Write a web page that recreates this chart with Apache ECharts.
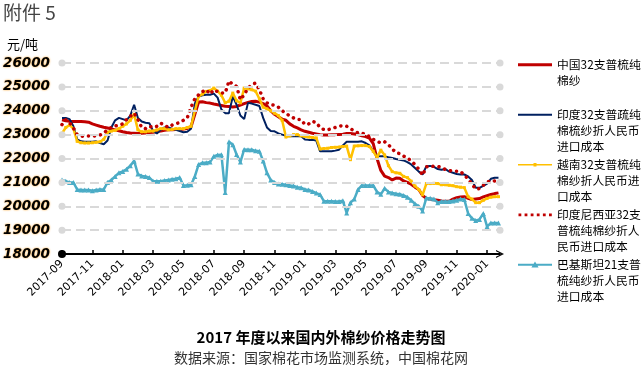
<!DOCTYPE html>
<html><head><meta charset="utf-8">
<script src="https://cdn.jsdelivr.net/npm/echarts@6/dist/echarts.min.js"></script>
<style>html,body{margin:0;padding:0;background:#fff}#c{width:642px;height:365px}</style>
</head><body><div id="c"></div>
<script>
// x positions: months since 2017-09 (weekly-ish samples)
const monthPos = [
 0,0.25,0.5,0.75, 1,1.25,1.5,1.75, 2,2.25,2.5,2.75, 3,3.25,3.5,3.75,
 4,4.25,4.5,4.75, 5,5.25,5.5,5.75, 6,6.25,6.5,6.75, 7,7.25,7.5,7.75,
 8,8.25,8.5,8.75, 9,9.25,9.5,9.75, 10,10.25,10.5,10.75, 11,11.25,11.5,11.75,
 12,12.25,12.5,12.75, 13,13.25,13.5,13.75, 14,14.25,14.5,14.75, 15,15.25,15.5,15.75,
 16,16.25,16.5,16.75, 17,17.25,17.5,17.75, 18,18.25,18.5,18.75, 19,19.25,19.5,19.75,
 20,20.25,20.5,20.75, 21,21.25,21.5,21.75, 22,22.25,22.5,22.75, 23,23.25,23.5,23.75,
 24,24.25,24.5,24.75, 25,25.25,25.5,25.75, 26,26.25,26.5,26.75, 27,27.25,27.5,27.75,
 28,28.25,28.5,28.75
];
const tickPos = [0,2,4,6,8,10,12,14,16,18,20,22,24,26,28];
const monthTicks = ['2017-09','2017-11','2018-01','2018-03','2018-05','2018-07','2018-09','2018-11',
  '2019-01','2019-03','2019-05','2019-07','2019-09','2019-11','2020-01'];
const gridVals = [19000,20000,21000,22000,23000,24000,25000,26000];

const seriesNames = [
 '中国32支普梳纯棉纱',
 '印度32支普疏纯棉梳纱折人民币进口成本',
 '越南32支普梳纯棉纱折人民币进口成本',
 '印度尼西亚32支普梳纯棉纱折人民币进口成本',
 '巴基斯坦21支普梳纯纱折人民币进口成本'
];
const legendLines = [
 '中国32支普梳纯\n棉纱\n ',
 '印度32支普疏纯\n棉梳纱折人民币\n进口成本',
 '越南32支普梳纯\n棉纱折人民币进\n口成本',
 '印度尼西亚32支\n普梳纯棉纱折人\n民币进口成本',
 '巴基斯坦21支普\n梳纯纱折人民币\n进口成本'
];

const china32 = [
 23620,23580,23560,23550, 23550,23550,23540,23520, 23450,23400,23350,23310, 23280,23240,23200,23160,
 23120,23090,23070,23060, 23050,23060,23070,23090, 23100,23130,23150,23180, 23200,23200,23210,23220,
 23230,23260,23330,23850, 24370,24380,24340,24320, 24280,24250,24220,24190, 24180,24160,24180,24240,
 24300,24350,24390,24400, 24360,24300,24200,24000, 23850,23750,23650,23600, 23450,23350,23280,23200,
 23140,23100,23060,23030, 23000,22980,22980,23000, 23000,23010,23020,23050, 23050,23030,23000,22950,
 22920,22850,22620,22000, 21500,21260,21200,21100, 21180,21170,21060,21000, 20920,20800,20700,20450,
 20330,20300,20270,20250, 20220,20210,20210,20300, 20360,20390,20400,20330, 20280,20300,20320,20390,
 20440,20490,20530,20560
];
const india32 = [
 23700,23700,23650,23350, 22800,22720,22700,22700, 22700,22720,22650,22600, 22750,23300,23600,23700,
 23650,23600,23800,24250, 23700,23550,23500,23480, 23150,23050,23200,23300, 23300,23250,23200,23150,
 23100,23120,23250,24300, 24600,24650,24670,24670, 24720,24550,24050,23900, 23900,24600,24250,23800,
 23650,24330,24300,24250, 24200,23700,23300,23150, 23140,23050,23000,22950, 22930,22930,22930,22930,
 22800,22780,22780,22750, 22300,22300,22300,22300, 22330,22370,22550,22700, 22700,22700,22700,22720,
 22650,22550,22300,22100, 22090,22090,22050,22020, 21980,21950,21920,21850, 21750,21600,21450,21330,
 21680,21690,21650,21560, 21530,21560,21450,21400, 21350,21330,21330,21250, 21100,20780,20770,20850,
 20950,21150,21190,21190
];
const vietnam32 = [
 23050,23300,23400,23250, 22720,22660,22650,22650, 22660,22680,22700,22800, 23100,23150,23180,23250,
 23350,23450,23600,23850, 23200,23120,23120,23150, 23150,23200,23250,23250, 23200,23220,23250,23250,
 23250,23300,23350,24000, 24600,24700,24810,24850, 24950,24820,24650,24330, 24400,24740,24420,24330,
 24950,24920,24880,24820, 24500,24150,24080,24000, 23900,23800,23600,22900, 22950,23000,23000,22950,
 22920,22900,22880,22860, 22400,22420,22430,22460, 22470,22480,22500,22520, 21950,22520,22530,22540,
 22540,22500,22300,22050, 22350,22150,21700,21450, 21400,21380,21250,21200, 21050,20850,20700,20480,
 20950,20950,20960,20950, 20900,20900,20880,20860, 20820,20800,20780,20400, 20300,20150,20150,20250,
 20330,20380,20400,20400
];
const indonesia32 = [
 23420,23620,23500,23280, 23000,22930,22940,22940, 22950,22940,22980,23070, 23200,23300,23360,23400,
 23450,23630,23770,23900, 23630,23300,23250,23350, 23300,23350,23480,23400, 23300,23400,23460,23500,
 23600,23700,24150,24500, 24670,24800,24880,24700, 24880,24800,24740,24740, 25250,25100,25020,24460,
 24670,24950,25090,25160, 24880,24500,24330,24260, 24230,24150,24000,23900, 23780,23700,23630,23630,
 23420,23450,23560,23500, 23300,23210,23200,23250, 23300,23350,23380,23350, 23250,23150,23070,23070,
 23000,22930,22800,22720, 22650,22700,22580,22400, 22250,22200,22100,22020, 21900,21750,21550,21300,
 21650,21680,21670,21670, 21620,21540,21500,21470, 21470,21460,21300,21150, 20920,20720,20740,20880,
 21000,21080,21060,21050
];
const pakistan21 = [
 21100,21050,21000,21000, 20700,20680,20680,20680, 20650,20680,20700,20700, 21000,21100,21250,21400,
 21460,21550,21700,21900, 21350,21270,21250,21200, 21050,21050,21050,21080, 21100,21130,21150,21200,
 20870,20880,20900,21250, 21750,21820,21820,21850, 22090,22150,22160,20580, 22700,22580,22170,21850,
 22380,22370,22370,22320, 22300,21900,21400,21100, 21000,20930,20920,20900, 20870,20850,20800,20780,
 20700,20680,20620,20550, 20490,20210,20210,20210, 20200,20200,20230,19720, 20150,20300,20700,20870,
 20870,20870,20870,20600, 20500,20750,20600,20560, 20520,20500,20450,20380, 20250,20100,20000,19800,
 20350,20330,20300,20150, 20200,20200,20200,20220, 20250,20300,20280,19700, 19500,19400,19450,19700,
 19150,19300,19300,19300
];

const colors = ['#c00000','#002060','#ffc000','#c00000','#4bacc6'];
// legend icons drawn in a 34 x 47 box, mark aligned with first text line
const legendIcons = [
 'path://M0,0L0.01,0L0.01,0.01ZM0,6.35L34,6.35L34,9.35L0,9.35ZM0,47L0.01,47L0.01,47.01Z',
 'path://M0,0L0.01,0L0.01,0.01ZM0,6.85L34,6.85L34,8.85L0,8.85ZM0,47L0.01,47L0.01,47.01Z',
 'path://M0,0L0.01,0L0.01,0.01ZM0,7.1L34,7.1L34,8.6L0,8.6ZM15.5,6.1L18.5,6.1L18.5,9.6L15.5,9.6ZM0,47L0.01,47L0.01,47.01Z',
 'path://M0,0L0.01,0L0.01,0.01ZM0.5,6.45L3.3,6.45L3.3,9.25L0.5,9.25ZM6.6,6.45L9.4,6.45L9.4,9.25L6.6,9.25ZM12.7,6.45L15.5,6.45L15.5,9.25L12.7,9.25ZM18.8,6.45L21.6,6.45L21.6,9.25L18.8,9.25ZM24.9,6.45L27.7,6.45L27.7,9.25L24.9,9.25ZM31,6.45L33.8,6.45L33.8,9.25L31,9.25ZM34,47L34.01,47L34.01,47.01Z',
 'path://M0,0L0.01,0L0.01,0.01ZM0,6.85L34,6.85L34,8.85L0,8.85ZM17,4.4L20.6,10.6L13.4,10.6ZM0,47L0.01,47L0.01,47.01Z'
];
const pairs = arr => monthPos.map((m, i) => [m, arr[i]]);

const chart = echarts.init(document.getElementById('c'), null, {renderer:'canvas', width:642, height:365});
const option = {
  animation: false,
  grid: {left: 62, right: 142, top: 63, bottom: 111},
  title: [
    {text: '2017 年度以来国内外棉纱价格走势图', left: 'center', top: 325,
     textStyle: {fontSize: 15, fontWeight: 'bold', color: '#000', fontFamily: 'Noto Sans CJK SC'}},
    {text: '数据来源：国家棉花市场监测系统，中国棉花网', left: 'center', top: 346,
     textStyle: {fontSize: 14, fontWeight: 'normal', color: '#333', fontFamily: 'Noto Sans CJK SC'}}
  ],
  graphic: [
    {type: 'text', left: 3, top: 3, style: {text: '附件 5', fontSize: 19, fontFamily: 'Noto Sans CJK SC', fill: '#444'}},
    {type: 'text', left: 7, top: 38, style: {text: '元/吨', fontSize: 13, fontFamily: 'Noto Sans CJK SC', fill: '#000'}}
  ],
  legend: {
    orient: 'vertical', left: 518, top: 57, padding: 0, itemWidth: 34, itemHeight: 47.1, itemGap: 2.9,
    selectedMode: false, symbolKeepAspect: false,
    itemStyle: {borderWidth: 0},
    textStyle: {fontSize: 11.8, lineHeight: 15.7, fontFamily: 'Noto Sans CJK SC', color: '#000'},
    formatter: name => legendLines[seriesNames.indexOf(name)],
    data: seriesNames.map((n, i) => ({name: n, icon: legendIcons[i]}))
  },
  xAxis: {
    type: 'value', min: 0, max: 28.85, interval: 2,
    axisLine: {show: true, symbol: ['circle', 'path://M0,10L5,0L10,10L8.4,10L5,3.2L1.6,10Z'], symbolSize: [8, 9],
               lineStyle: {color: '#000', width: 2}},
    axisTick: {show: true, inside: true, length: 4, customValues: tickPos, lineStyle: {color: '#000', width: 1.5}},
    axisLabel: {customValues: tickPos, rotate: 45, fontSize: 11, fontFamily: 'DejaVu Sans', color: '#000', margin: 8,
                formatter: v => monthTicks[Math.round(v / 2)] || ''},
    splitLine: {show: false}
  },
  yAxis: {
    type: 'value', min: 18000, max: 26000, interval: 1000,
    axisLine: {show: false}, axisTick: {show: false}, splitLine: {show: false},
    axisLabel: {margin: 12, fontSize: 13.5, fontWeight: 'bold', fontStyle: 'italic', fontFamily: 'DejaVu Sans',
                color: '#000', textShadowColor: 'rgba(255,150,0,0.9)', textShadowBlur: 2,
                formatter: v => String(v)}
  },
  series: [
    {type: 'line', name: 'grid', data: [], z: 1, silent: true,
     markLine: {silent: true, animation: false, symbol: ['circle', 'circle'], symbolSize: 7,
                label: {show: false}, itemStyle: {color: '#d9d9d9'},
                lineStyle: {color: '#d9d9d9', type: [9, 5], width: 2},
                emphasis: {disabled: true},
                data: gridVals.map(v => ({yAxis: v}))}},
    {type: 'line', name: seriesNames[0], data: pairs(china32), symbol: 'none', z: 3,
     lineStyle: {color: colors[0], width: 3}, itemStyle: {color: colors[0]}},
    {type: 'line', name: seriesNames[1], data: pairs(india32), symbol: 'none', z: 3,
     lineStyle: {color: colors[1], width: 2}, itemStyle: {color: colors[1]}},
    {type: 'line', name: seriesNames[2], data: pairs(vietnam32), symbol: 'rect', symbolSize: 3, z: 3,
     lineStyle: {color: colors[2], width: 2.5}, itemStyle: {color: colors[2]}},
    {type: 'line', name: seriesNames[3], data: pairs(indonesia32), symbol: 'none', z: 4,
     lineStyle: {color: colors[3], width: 3.5, type: [0.1, 6], cap: 'round'}, itemStyle: {color: colors[3]}},
    {type: 'line', name: seriesNames[4], data: pairs(pakistan21), symbol: 'triangle', symbolSize: 5, z: 3,
     lineStyle: {color: colors[4], width: 2.5}, itemStyle: {color: colors[4]}}
  ]
};
chart.setOption(option);
</script>
</body></html>
